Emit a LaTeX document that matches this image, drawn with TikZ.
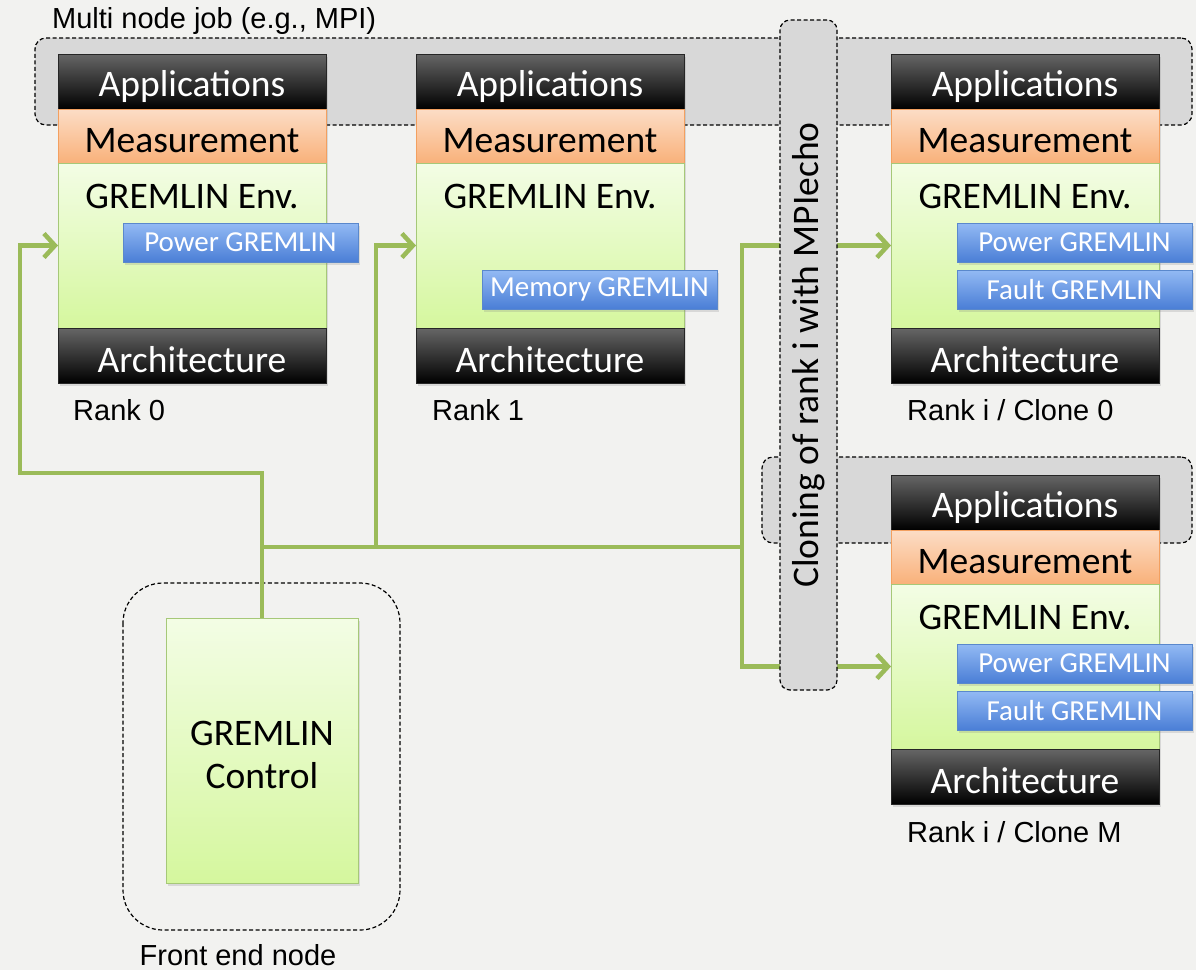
\documentclass[tikz,border=0pt]{standalone}
\usepackage{fontspec}
\setmainfont{Liberation Sans}
\newfontfamily\calfont{Carlito}
\usetikzlibrary{arrows.meta,shadows}
\definecolor{bgc}{HTML}{F2F2F0}
\definecolor{grayfill}{HTML}{D8D8D8}
\definecolor{grn}{HTML}{9BBB59}
\definecolor{meastop}{HTML}{FCDDC6}
\definecolor{measbot}{HTML}{F9B17A}
\definecolor{measdraw}{HTML}{F3A060}
\definecolor{envtop}{HTML}{F3FDE5}
\definecolor{envbot}{HTML}{D5F79E}
\definecolor{envdraw}{HTML}{A6C878}
\definecolor{bluetop}{HTML}{93BAF4}
\definecolor{bluebot}{HTML}{4A7ED6}
\definecolor{bluedraw}{HTML}{5A88CC}
\tikzset{
  shad/.style={drop shadow={shadow xshift=1.5pt, shadow yshift=-2.5pt, opacity=0.22}},
  layer/.style={anchor=north west, inner sep=0pt, outer sep=0pt, minimum width=268pt,
    font=\calfont\fontsize{37.5}{44}\selectfont, line width=1pt, shad},
  applayer/.style={layer, minimum height=55pt, top color=black!60, bottom color=black, draw=black!85, text=white},
  archlayer/.style={applayer},
  measlayer/.style={layer, minimum height=54pt, top color=meastop, bottom color=measbot, draw=measdraw, text=black},
  envlayer/.style={layer, minimum height=165pt, top color=envtop, bottom color=envbot, draw=envdraw},
  envtext/.style={inner sep=0pt, font=\calfont\fontsize{37.5}{44}\selectfont},
  gbox/.style={anchor=north west, inner sep=0pt, outer sep=0pt, minimum width=235pt, minimum height=39pt,
    top color=bluetop, bottom color=bluebot, draw=bluedraw, line width=1pt, text=white,
    font=\calfont\fontsize{29}{34}\selectfont, shad},
  dbox/.style={anchor=north west, inner sep=0pt, outer sep=0pt, draw=black, fill=grayfill,
    dash pattern=on 4pt off 2.5pt, line width=1.2pt, rounded corners=11pt},
  lbl/.style={anchor=base west, inner sep=0pt, font=\fontsize{29}{34}\selectfont},
  conn/.style={draw=grn, line width=4.5pt},
  arr/.style={conn, -{Straight Barb[length=11pt,width=24pt]}},
}
\newcommand{\lowr}[1]{\raisebox{-4.5pt}[\height][\depth]{#1}}
\newcommand{\gstack}[3]{%
  \node[applayer] (#1app) at (#2,#3) {\lowr{Applications}};
  \node[measlayer] (#1meas) at (#2,{#3+55}) {\lowr{Measurement}};
  \node[envlayer] (#1env) at (#2,{#3+109}) {};
  \node[archlayer] (#1arch) at (#2,{#3+274}) {\lowr{Architecture}};
  \node[envtext] (#1envt) at ({#2+134},{#3+142}) {GREMLIN Env.};
}
\begin{document}
\begin{tikzpicture}[x=1pt,y=-1pt]
\fill[bgc] (0,0) rectangle (1196,970);
\useasboundingbox (0,0) rectangle (1196,970);

% job group boxes
\node[dbox, minimum width=1157pt, minimum height=87pt] (job) at (35,38) {};
\node[dbox, minimum width=430pt, minimum height=86pt] (clonebox) at (762,457) {};
\node[lbl] (joblbl) at (52,28) {Multi node job (e.g., MPI)};

% stacks
\gstack{rz}{58}{54}
\gstack{ro}{416}{54}
\gstack{cz}{891}{54}
\gstack{cm}{891}{475}

% gremlin modules
\node[gbox] (pz) at (123,223) {Power GREMLIN};
\node[gbox] (mo) at (482,270) {Memory GREMLIN};
\node[gbox] (pc) at (957,223) {Power GREMLIN};
\node[gbox] (fc) at (957,270) {Fault GREMLIN};
\node[gbox] (pm) at (957,644) {Power GREMLIN};
\node[gbox] (fm) at (957,691) {Fault GREMLIN};

% labels
\node[lbl] (l0) at (73,420) {Rank 0};
\node[lbl] (l1) at (432,420) {Rank 1};
\node[lbl] (l2) at (907,420) {Rank i / Clone 0};
\node[lbl] (l3) at (907,842) {Rank i / Clone M};

% front end node
\draw[black, dash pattern=on 4pt off 2.5pt, line width=1.2pt, rounded corners=40pt] (123,583) rectangle (400,930);
\node[anchor=north west, inner sep=0pt, outer sep=0pt, minimum width=192pt, minimum height=265pt,
  top color=envtop, bottom color=envbot, draw=envdraw, line width=1pt, shad] (ctrl) at (166,618) {};
\node[align=center, inner sep=0pt, font=\calfont\fontsize{37.5}{43}\selectfont] (ctrltxt) at (262,755) {GREMLIN\\Control};
\node[anchor=base, inner sep=0pt, font=\fontsize{29}{34}\selectfont] (fel) at (238,965) {Front end node};

% connectors
\coordinate (a0) at (20,473);
\coordinate (jc) at (262,547);
\coordinate (j1) at (376,547);
\coordinate (jm) at (742,547);
\draw[arr] (ctrl.north) |- (a0) |- (rzenv.west);
\draw[conn] (jc) -- (jm);
\draw[arr] (j1) |- (roenv.west);
\draw[arr] (jm) |- (czenv.west);
\draw[arr] (jm) |- (cmenv.west);

% cloning bar
\node[dbox, rounded corners=10pt, minimum width=57pt, minimum height=670pt] (bar) at (780,20) {};
\node[rotate=90, inner sep=0pt, font=\calfont\fontsize{37.5}{44}\selectfont] (bartxt) at (bar.center) {Cloning of rank i with MPIecho};
\end{tikzpicture}
\end{document}
